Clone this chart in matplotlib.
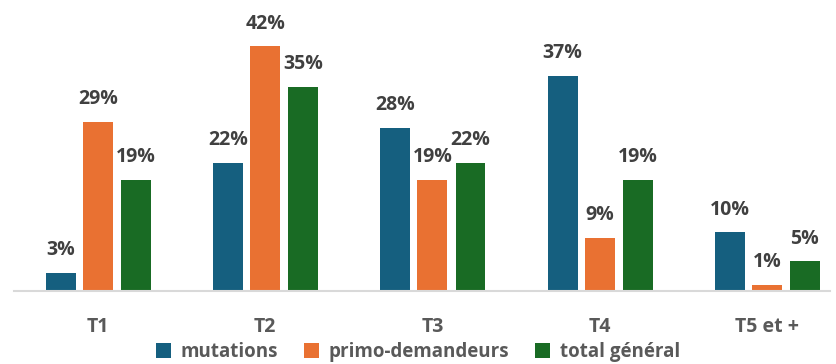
import numpy as np
import matplotlib
matplotlib.use('Agg')
import matplotlib.pyplot as plt

categories = ['T1', 'T2', 'T3', 'T4', 'T5 et +']
mutations = [3, 22, 28, 37, 10]
primo = [29, 42, 19, 9, 1]
total = [19, 35, 22, 19, 5]
series_names = ['mutations', 'primo-demandeurs', 'total général']
colors = ['#155f7f', '#e97132', '#196b24']

plt.rcParams['font.family'] = ['Open Sans', 'DejaVu Sans']

fig = plt.figure(figsize=(8.36, 3.64), dpi=100)
ax = fig.add_axes([14 / 836, 1 - 290.5 / 364, 816 / 836, 290.5 / 364])

x = np.arange(len(categories))
w = 0.179
offsets = [-0.221, 0.0, 0.228]
for vals, off, c, name in zip([mutations, primo, total], offsets, colors, series_names):
    bars = ax.bar(x + off, vals, w, color=c, label=name)
    for b, v in zip(bars, vals):
        ax.text(b.get_x() + b.get_width() / 2, v + 2.2, f'{v}%', ha='center', va='bottom',
                fontsize=14, fontweight='bold', color='#404040')

ax.set_xlim((14 - 98) / 167.2, (830 - 98) / 167.2)
ax.set_ylim(0, 50)
ax.set_yticks([])
ax.set_xticks(x)
ax.set_xticklabels(categories, fontsize=14, fontweight='bold', color='#595959')
ax.tick_params(axis='x', length=0, pad=19)
for s in ['top', 'right', 'left']:
    ax.spines[s].set_visible(False)
ax.spines['bottom'].set_color('#d9d9d9')
ax.spines['bottom'].set_linewidth(1.5)

leg = fig.legend(loc='center', bbox_to_anchor=(0.5, 1 - 352 / 364), ncol=3, frameon=False,
                 handlelength=0.8, handleheight=0.8, handletextpad=0.5, columnspacing=1.4,
                 prop={'size': 13.5, 'weight': 'bold'})
for t in leg.get_texts():
    t.set_color('#595959')

fig.savefig('out.png', dpi=100)
